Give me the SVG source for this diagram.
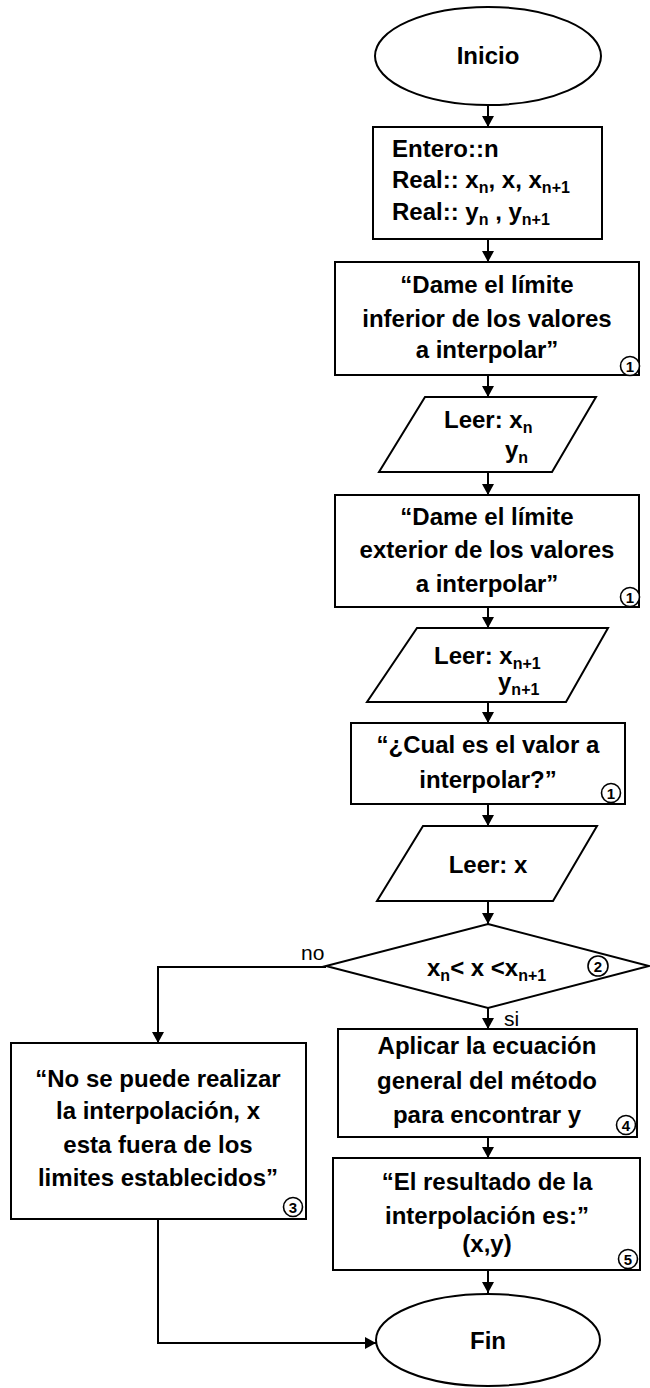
<svg xmlns="http://www.w3.org/2000/svg" width="650" height="1388" viewBox="0 0 650 1388">
<defs>
<style>
.s{fill:#fff;stroke:#000;stroke-width:2}
.t{font-family:"Liberation Sans",Arial,sans-serif;font-weight:bold;font-size:24px;fill:#000}
.c{text-anchor:middle}
.sub{font-size:16px}
.lbl{font-family:"Liberation Sans",Arial,sans-serif;font-size:21px;fill:#000}
.cn{fill:#fff;stroke:#000;stroke-width:1.6}
.cnt{font-family:"Liberation Sans",Arial,sans-serif;font-weight:bold;font-size:15px;text-anchor:middle;fill:#000}
.e{fill:none;stroke:#000;stroke-width:2}
</style>
<marker id="ah" markerWidth="12" markerHeight="12" refX="11" refY="6" orient="auto" markerUnits="userSpaceOnUse">
<path d="M0,0 L11,6 L0,12 z" fill="#000"/>
</marker>
</defs>
<rect width="650" height="1388" fill="#fff"/>
<g id="connectors">
<line class="e" x1="488" y1="105" x2="488" y2="127" marker-end="url(#ah)"/>
<line class="e" x1="488" y1="239" x2="488" y2="262" marker-end="url(#ah)"/>
<line class="e" x1="488" y1="375" x2="488" y2="397" marker-end="url(#ah)"/>
<line class="e" x1="488" y1="472" x2="488" y2="495" marker-end="url(#ah)"/>
<line class="e" x1="488" y1="607" x2="488" y2="628" marker-end="url(#ah)"/>
<line class="e" x1="488" y1="702" x2="488" y2="723" marker-end="url(#ah)"/>
<line class="e" x1="488" y1="804" x2="488" y2="826" marker-end="url(#ah)"/>
<line class="e" x1="488" y1="901" x2="488" y2="924" marker-end="url(#ah)"/>
<line class="e" x1="488" y1="1008" x2="488" y2="1029" marker-end="url(#ah)"/>
<line class="e" x1="488" y1="1137" x2="488" y2="1158" marker-end="url(#ah)"/>
<line class="e" x1="488" y1="1270" x2="488" y2="1293" marker-end="url(#ah)"/>
<polyline class="e" points="326,967 158,967 158,1043" marker-end="url(#ah)"/>
<polyline class="e" points="158,1219 158,1343 376,1343" marker-end="url(#ah)"/>
<text class="lbl" x="301" y="960">no</text>
<text class="lbl" x="504" y="1026">si</text>
</g>
<g id="inicio">
<ellipse class="s" cx="488" cy="56" rx="113" ry="49"/>
<text class="t c" x="488" y="64">Inicio</text>
</g>
<g id="declaraciones">
<rect class="s" x="373" y="127" width="229" height="112"/>
<text class="t" x="392" y="157">Entero::n</text>
<text class="t" x="392" y="188">Real:: x<tspan class="sub" dy="5">n</tspan><tspan dy="-5">, x, x</tspan><tspan class="sub" dy="5">n+1</tspan></text>
<text class="t" x="392" y="220">Real:: y<tspan class="sub" dy="5">n</tspan><tspan dy="-5"> , y</tspan><tspan class="sub" dy="5">n+1</tspan></text>
</g>
<g id="msg_inferior">
<rect class="s" x="335" y="262" width="304" height="113"/>
<text class="t c" x="487" y="293">“Dame el límite</text>
<text class="t c" x="487" y="327">inferior de los valores</text>
<text class="t c" x="487" y="358">a interpolar”</text>
<circle class="cn" cx="630" cy="366" r="9.5"/>
<text class="cnt" x="630" y="371.5">1</text>
</g>
<g id="leer_xn">
<polygon class="s" points="425,397 596,397 552,472 379,472"/>
<text class="t" x="444" y="428">Leer: x<tspan class="sub" dy="5">n</tspan></text>
<text class="t" x="505" y="458">y<tspan class="sub" dy="5">n</tspan></text>
</g>
<g id="msg_exterior">
<rect class="s" x="335" y="495" width="304" height="112"/>
<text class="t c" x="487" y="525">“Dame el límite</text>
<text class="t c" x="487" y="558">exterior de los valores</text>
<text class="t c" x="487" y="592">a interpolar”</text>
<circle class="cn" cx="630" cy="597" r="9.5"/>
<text class="cnt" x="630" y="602.5">1</text>
</g>
<g id="leer_xn1">
<polygon class="s" points="417,628 608,628 566,702 367,702"/>
<text class="t" x="434" y="664">Leer: x<tspan class="sub" dy="5">n+1</tspan></text>
<text class="t" x="498" y="690">y<tspan class="sub" dy="5">n+1</tspan></text>
</g>
<g id="msg_valor">
<rect class="s" x="351" y="723" width="274" height="81"/>
<text class="t c" x="488" y="753">“¿Cual es el valor a</text>
<text class="t c" x="488" y="788">interpolar?”</text>
<circle class="cn" cx="611" cy="793" r="9.5"/>
<text class="cnt" x="611" y="798.5">1</text>
</g>
<g id="leer_x">
<polygon class="s" points="423,826 597,826 553,901 377,901"/>
<text class="t c" x="488" y="873">Leer: x</text>
</g>
<g id="decision">
<polygon class="s" points="488,924 649,966 488,1008 326,966"/>
<text class="t" x="427" y="976">x<tspan class="sub" dy="5">n</tspan><tspan dy="-5">&lt; x &lt;x</tspan><tspan class="sub" dy="5">n+1</tspan></text>
<circle class="cn" cx="598" cy="966" r="10"/>
<text class="cnt" x="598" y="971.5">2</text>
</g>
<g id="error">
<rect class="s" x="11" y="1043" width="295" height="176"/>
<text class="t c" x="158" y="1087">“No se puede realizar</text>
<text class="t c" x="158" y="1119">la interpolación, x</text>
<text class="t c" x="158" y="1153">esta fuera de los</text>
<text class="t c" x="158" y="1186">limites establecidos”</text>
<circle class="cn" cx="293" cy="1207" r="9.5"/>
<text class="cnt" x="293" y="1212.5">3</text>
</g>
<g id="aplicar">
<rect class="s" x="338" y="1029" width="299" height="108"/>
<text class="t c" x="487" y="1054">Aplicar la ecuación</text>
<text class="t c" x="487" y="1089">general del método</text>
<text class="t c" x="487" y="1123">para encontrar y</text>
<circle class="cn" cx="626" cy="1125" r="9.5"/>
<text class="cnt" x="626" y="1130.5">4</text>
</g>
<g id="resultado">
<rect class="s" x="333" y="1158" width="307" height="112"/>
<text class="t c" x="487" y="1190">“El resultado de la</text>
<text class="t c" x="487" y="1224">interpolación es:”</text>
<text class="t c" x="487" y="1252">(x,y)</text>
<circle class="cn" cx="628" cy="1259" r="9.5"/>
<text class="cnt" x="628" y="1264.5">5</text>
</g>
<g id="fin">
<ellipse class="s" cx="488" cy="1340" rx="112" ry="46"/>
<text class="t c" x="488" y="1349">Fin</text>
</g>
</svg>
